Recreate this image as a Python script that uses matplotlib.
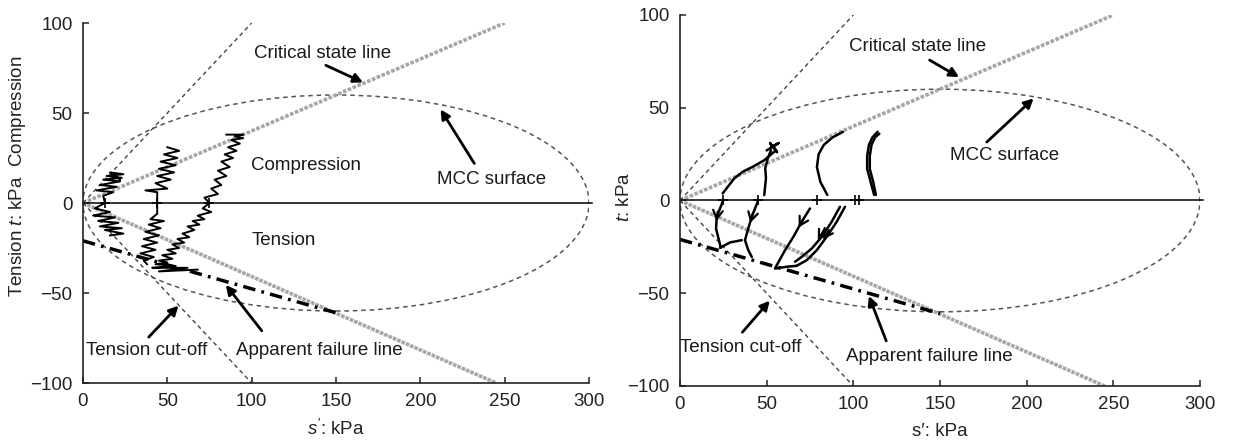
import matplotlib
matplotlib.use("Agg")
import matplotlib.pyplot as plt
from matplotlib.patches import Ellipse

plt.rcParams['font.family'] = ['Liberation Sans', 'DejaVu Sans']
plt.rcParams['mathtext.fontset'] = 'custom'
plt.rcParams['mathtext.it'] = 'Liberation Sans:italic'
plt.rcParams['mathtext.rm'] = 'Liberation Sans'

# ---------------- reference lines (s', t in kPa) ----------------
csl_up_s = [0, 250]
csl_up_t = [0, 100]
csl_lo_s = [0, 245]
csl_lo_t = [0, -100]
tco_up_s = [0, 100]
tco_up_t = [0, 100]
tco_lo_s = [0, 100]
tco_lo_t = [0, -100]
afl_s = [0, 150]
afl_t = [-21, -61]
mcc_p0 = 300
mcc_tmax = 60
axis_s = [0, 302]
axis_t = [0, 0]

x_ticks = [0, 50, 100, 150, 200, 250, 300]
y_ticks = [-100, -50, 0, 50, 100]
y_ticklabels = ['\u2212100', '\u221250', '0', '50', '100']

# ---------------- left panel: jagged stress paths ----------------
L_start_s = [13, 44, 75]

LA_comp_s = [13, 12, 18, 8, 20, 10, 22, 12, 23, 14, 24, 16, 22]
LA_comp_t = [0, 4, 6, 7, 9, 10, 12, 13, 14, 15, 16, 17, 13]
LA_tens_s = [13, 7, 16, 6, 19, 9, 21, 10, 23, 13, 24, 16]
LA_tens_t = [0, -3, -5, -7, -8, -10, -11, -13, -14, -15, -17, -18]

LB_comp_s = [44, 44, 37, 50, 43, 52, 44, 54, 45, 55, 46, 56, 48, 57, 50]
LB_comp_t = [0, 6, 7, 8, 11, 13, 15, 17, 19, 21, 23, 25, 27, 29, 31]
LB_tens_s = [44, 44, 40, 48, 39, 46, 37, 45, 36, 44, 35, 43, 34, 42, 36, 38]
LB_tens_t = [0, -6, -9, -10, -12, -14, -16, -18, -20, -22, -24, -26, -28, -30, -32, -34]

LC_comp_s = [75, 72, 80, 76, 82, 78, 85, 80, 87, 82, 89, 84, 91, 86, 93, 88, 95, 90, 95, 85]
LC_comp_t = [0, 3, 5, 8, 10, 13, 15, 18, 20, 23, 25, 27, 29, 31, 33, 35, 36, 37, 38, 38]
LC_tens_s = [75, 71, 76, 68, 72, 65, 69, 62, 66, 59, 63, 56, 60, 53, 57, 50, 55, 47, 53,
             45, 50, 43, 55, 41, 62, 45, 68]
LC_tens_t = [0, -3, -5, -7, -9, -10, -12, -13, -15, -17, -19, -20, -22, -23, -25, -26, -28,
             -29, -31, -32, -33, -34, -35, -36, -36, -38, -37]

# ---------------- right panel: smooth stress paths ----------------
R_start_s = [25, 45, 79, 101, 103]

R1_comp_s = [24.6, 31.3, 36.2, 42.0, 48.6, 55.4]
R1_comp_t = [3.8, 11.9, 15.5, 18.2, 21.7, 27.1]
R2_comp_s = [48.6, 49.6, 49.2, 50.6, 52.5]
R2_comp_t = [2.9, 11.9, 17.3, 22.6, 27.1]
Rtuft_s = [50, 57, 53, 52, 56, 54]
Rtuft_t = [27, 31, 29, 31, 26, 29]
R3_comp_s = [85, 81, 79, 80, 83, 88, 94]
R3_comp_t = [3, 10, 18, 25, 30, 34, 37]
R4a_comp_s = [112, 110, 108, 108, 109, 111, 114]
R4a_comp_t = [3, 10, 17, 24, 30, 34, 37]
R4b_comp_s = [113, 111.5, 109.5, 109.5, 110.5, 112.5, 115]
R4b_comp_t = [3, 10, 17, 24, 30, 34, 36]

R1_tens_s = [24.6, 21.2, 20.8, 22.7, 23.5]
R1_tens_t = [-0.7, -8.8, -15.1, -22.3, -25.5]
R2_tens_s = [44.8, 41.4, 39.1, 37.5, 39.4, 41.4]
R2_tens_t = [-0.7, -8.8, -16.0, -21.4, -26.8, -30.4]
Rlink_s = [23.1, 28.9, 35.6]
Rlink_t = [-25.5, -22.6, -21.4]
R3_tens_s = [75.0, 70.2, 65.4, 60.6, 55.8, 54.8, 61.6, 67.3]
R3_tens_t = [-4.3, -11.5, -19.6, -26.8, -34.9, -36.7, -35.7, -35.2]
R4a_tens_s = [95.2, 90.4, 84.6, 78.9, 73.1, 67.3]
R4a_tens_t = [-3.4, -11.5, -19.6, -26.8, -32.2, -35.2]
R4b_tens_s = [92.3, 87.5, 81.8, 76.0, 70.2, 66.4]
R4b_tens_t = [-3.4, -11.5, -19.6, -25.9, -30.4, -33.0]

# arrowheads on right tension paths
R_arrow_tail_s = [21.8, 42.0, 71.5, 86.0, 83.0]
R_arrow_tail_t = [-6.0, -7.0, -9.5, -16.0, -16.0]
R_arrow_tip_s = [21.0, 40.6, 68.5, 82.5, 79.5]
R_arrow_tip_t = [-11.0, -12.0, -14.5, -21.0, -21.5]

# ---------------- annotations ----------------
L_labels = ["Critical state line", "MCC surface", "Tension cut-off", "Apparent failure line"]
L_label_s = [142, 242, 38, 140]
L_label_t = [83, 13, -82, -82]
L_arrow_from_s = [144, 232, 39, 106]
L_arrow_from_t = [76.5, 22, -74.5, -71]
L_arrow_to_s = [166, 212, 56.6, 84.7]
L_arrow_to_t = [67, 52, -57, -45.5]
L_region_labels = ["Compression", "Tension"]
L_region_s = [132, 119]
L_region_t = [21, -21]

R_labels = ["Critical state line", "MCC surface", "Tension cut-off", "Apparent failure line"]
R_label_s = [137, 187, 35, 144]
R_label_t = [83, 24, -79, -84]
R_arrow_from_s = [144, 177, 36, 119]
R_arrow_from_t = [75.7, 31.5, -71, -75.7]
R_arrow_to_s = [161, 204, 51.8, 109]
R_arrow_to_t = [66.5, 55, -54, -51.5]

FS = 13


def base(ax):
    ax.set_xlim(0, 300)
    ax.set_ylim(-100, 100)
    ax.spines['top'].set_visible(False)
    ax.spines['right'].set_visible(False)
    for sp in ('left', 'bottom'):
        ax.spines[sp].set_linewidth(1.2)
        ax.spines[sp].set_color('#222222')
    ax.set_xticks(x_ticks)
    ax.set_yticks(y_ticks)
    ax.set_yticklabels(y_ticklabels)
    ax.tick_params(direction='in', length=4, width=1.1, labelsize=FS + 0.5,
                   colors='#222222')
    ax.tick_params(axis='x', pad=7.5)
    ax.tick_params(axis='y', pad=7.5)
    # reference lines
    ax.plot(csl_up_s, csl_up_t, color='#a6a6a6', lw=2.6, ls=(0, (1.0, 0.45)))
    ax.plot(csl_lo_s, csl_lo_t, color='#a6a6a6', lw=2.6, ls=(0, (1.0, 0.3)))
    ax.plot(tco_up_s, tco_up_t, color='#444444', lw=1.0, ls=(0, (3, 2.5)))
    ax.plot(tco_lo_s, tco_lo_t, color='#444444', lw=1.0, ls=(0, (3, 2.5)))
    ax.add_patch(Ellipse((mcc_p0 / 2, 0), width=mcc_p0, height=2 * mcc_tmax, fill=False,
                         ec='#555555', lw=1.1, ls=(0, (3, 2.5))))
    ax.plot(afl_s, afl_t, color='black', lw=2.5, ls=(0, (3.6, 1.8, 0.8, 1.8)))
    ax.plot(axis_s, axis_t, color='black', lw=1.1, clip_on=False)


def annot(ax, labels, ls, lt, fs, ft, ts, tt):
    for lab, x, y in zip(labels, ls, lt):
        ax.text(x, y, lab, ha='center', va='center', fontsize=FS + 0.5, color='#1a1a1a')
    for x0, y0, x1, y1 in zip(fs, ft, ts, tt):
        ax.annotate('', xy=(x1, y1), xytext=(x0, y0),
                    arrowprops=dict(arrowstyle='-|>,head_length=0.55,head_width=0.28',
                                    lw=2.0, color='black', shrinkA=0, shrinkB=0))


fig = plt.figure(figsize=(12.33, 4.45), dpi=100)
ax1 = fig.add_axes([0.0673, 0.1393, 0.4104, 0.809])
ax2 = fig.add_axes([0.5515, 0.1326, 0.4217, 0.8337])

# ---- left ----
base(ax1)
pk = dict(color='black', lw=1.4)
for s_, t_ in [(LA_comp_s, LA_comp_t), (LA_tens_s, LA_tens_t),
               (LB_comp_s, LB_comp_t), (LB_tens_s, LB_tens_t),
               (LC_comp_s, LC_comp_t), (LC_tens_s, LC_tens_t)]:
    ax1.plot(s_, t_, **pk)
ax1.plot(L_start_s, [0] * len(L_start_s), ls='none', marker='+', ms=7, mew=1.2, color='black')
annot(ax1, L_labels, L_label_s, L_label_t, L_arrow_from_s, L_arrow_from_t,
      L_arrow_to_s, L_arrow_to_t)
for lab, x, y in zip(L_region_labels, L_region_s, L_region_t):
    ax1.text(x, y, lab, ha='center', va='center', fontsize=FS + 0.5, color='#1a1a1a')
ax1.set_xlabel(r"$s'$: kPa", fontsize=FS + 0.5, color='#222222')
ax1.set_ylabel(r"Tension $t$: kPa  Compression", fontsize=FS + 0.5, color='#222222')
ax1.yaxis.set_label_coords(-0.108, 0.575)
ax1.xaxis.set_label_coords(0.5, -0.1)

# ---- right ----
base(ax2)
rk = dict(color='black', lw=1.8, solid_capstyle='round')
for s_, t_ in [(R1_comp_s, R1_comp_t), (R2_comp_s, R2_comp_t), (Rtuft_s, Rtuft_t),
               (R3_comp_s, R3_comp_t), (R4a_comp_s, R4a_comp_t), (R4b_comp_s, R4b_comp_t),
               (R1_tens_s, R1_tens_t), (R2_tens_s, R2_tens_t), (Rlink_s, Rlink_t),
               (R3_tens_s, R3_tens_t), (R4a_tens_s, R4a_tens_t), (R4b_tens_s, R4b_tens_t)]:
    ax2.plot(s_, t_, **rk)
for x0, y0, x1, y1 in zip(R_arrow_tail_s, R_arrow_tail_t, R_arrow_tip_s, R_arrow_tip_t):
    ax2.annotate('', xy=(x1, y1), xytext=(x0, y0),
                 arrowprops=dict(arrowstyle='->,head_length=0.6,head_width=0.35',
                                 lw=1.6, color='black', shrinkA=0, shrinkB=0))
ax2.plot(R_start_s, [0] * len(R_start_s), ls='none', marker='+', ms=7, mew=1.2, color='black')
annot(ax2, R_labels, R_label_s, R_label_t, R_arrow_from_s, R_arrow_from_t,
      R_arrow_to_s, R_arrow_to_t)
ax2.set_xlabel("s\u2032: kPa", fontsize=FS + 0.5, color='#222222')
ax2.set_ylabel(r"$t$: kPa", fontsize=FS + 0.5, color='#222222')
ax2.yaxis.set_label_coords(-0.09, 0.51)
ax2.xaxis.set_label_coords(0.5, -0.1)

fig.savefig('out.png', dpi=100)
